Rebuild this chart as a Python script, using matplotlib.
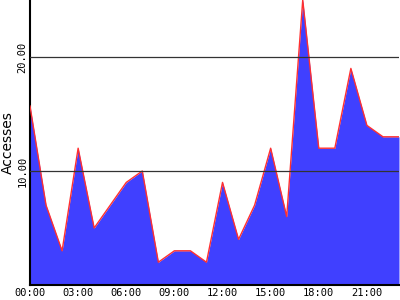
import matplotlib
matplotlib.use('Agg')
import matplotlib.pyplot as plt

# accessi per ora del giorno
ore = list(range(24))
accessi = [15.7, 7, 3, 12, 5, 7, 9, 10, 2, 3, 3, 2,
           9, 4, 7, 12, 6, 25, 12, 12, 19, 14, 13, 13]
etichette_x = ['00:00', '03:00', '06:00', '09:00', '12:00', '15:00', '18:00', '21:00']
pos_x = [0, 3, 6, 9, 12, 15, 18, 21]
pos_y = [10, 20]
etichette_y = ['10.00', '20.00']

fig = plt.figure(figsize=(4, 3), dpi=100)
ax = fig.add_axes([0.075, 0.05, 0.9225, 0.95])

ax.fill_between(ore, accessi, 0, color='#4040ff', linewidth=0, zorder=2)
ax.plot(ore, accessi, color='#ff3030', linewidth=1, zorder=3)

ax.set_xlim(0, 23)
ax.set_ylim(0, 25)

# griglia solo sulle linee orizzontali
for v in pos_y:
    ax.axhline(v, color='#333333', linewidth=0.9, zorder=4)

ax.set_xticks(pos_x)
ax.set_xticklabels(etichette_x, family='DejaVu Sans Mono', fontsize=7.5)
ax.set_yticks(pos_y)
ax.set_yticklabels(etichette_y, family='DejaVu Sans Mono', fontsize=7.5,
                   rotation=90, va='center')
ax.tick_params(length=0, pad=2)

ax.set_ylabel('Accesses', fontsize=10, labelpad=2)

ax.spines['top'].set_visible(False)
ax.spines['right'].set_visible(False)
ax.spines['left'].set_linewidth(1.5)
ax.spines['bottom'].set_linewidth(1.5)

fig.savefig('out.png', dpi=100)
